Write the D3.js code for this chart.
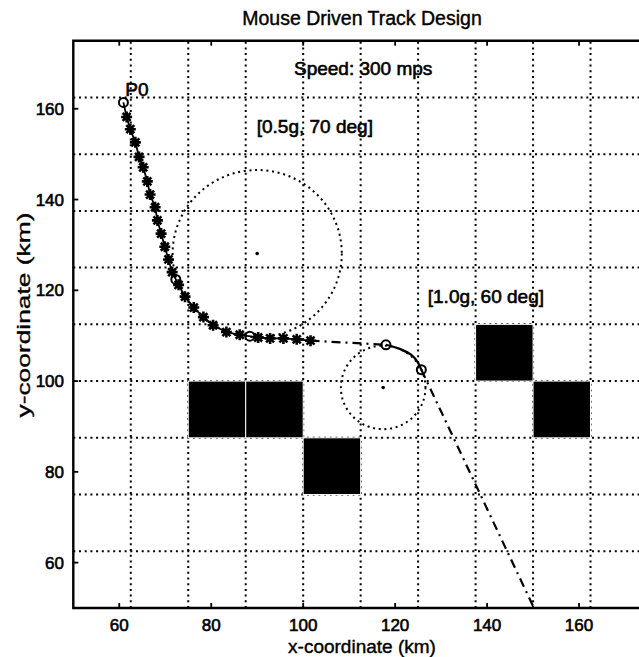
<!DOCTYPE html>
<html>
<head>
<meta charset="utf-8">
<script src="https://cdn.jsdelivr.net/npm/d3@7"></script>
<style>
  body { margin: 0; background: #fff; }
  svg text { font-family: "Liberation Sans", Arial, sans-serif; fill: #000; stroke: #000; stroke-width: 0.6px; }
</style>
</head>
<body>
<div id="chart"></div>
<script>
// ---- data ----
const xTicks = [60, 80, 100, 120, 140, 160];
const yTicks = [60, 80, 100, 120, 140, 160];
const gridVals = [62.5, 75, 87.5, 100, 112.5, 125, 137.5, 150, 162.5];

// threat cells (x0, x1, y0, y1 in km)
const blocks = [
    {x0: 75, x1: 87.5, y0: 87.5, y1: 100},
    {x0: 87.5, x1: 100, y0: 87.5, y1: 100},
    {x0: 100, x1: 112.5, y0: 75, y1: 87.5},
    {x0: 137.5, x1: 150, y0: 100, y1: 112.5},
    {x0: 150, x1: 162.5, y0: 87.5, y1: 100}
];

// mouse driven track (asterisks)
const trackStars = [
    [61.6, 158.2], [62.4, 155.5], [63.5, 152.6], [64.3, 149.4], [65.2, 147.1],
    [66.1, 144.0], [66.7, 141.1], [67.8, 138.3], [68.3, 135.4], [69.1, 132.5],
    [69.9, 129.6], [70.7, 126.8], [71.5, 124.0], [72.9, 121.2], [74.3, 118.6],
    [76.2, 116.2], [78.3, 114.1], [80.4, 112.3], [83.3, 110.8], [86.2, 110.2],
    [90.2, 109.6], [92.8, 109.4], [95.7, 109.4], [98.6, 109.2], [101.6, 108.9]
];
const startPoint = [60.9, 161.4];
const openMarks = [[60.9, 161.4], [72.3, 122.4], [88.4, 109.9], [118.0, 108.0], [125.7, 102.5]];

const leg1 = [[101.6, 108.9], [118.0, 108.0]];
const turnArc = [[118.0, 108.0], [121.0, 107.1], [123.6, 105.7], [125.0, 104.0], [125.7, 102.5]];
const leg2 = [[125.7, 102.5], [150.2, 50]];

// turn circles (centre, radius in km)
const turnCircles = [
    {cx: 90.0, cy: 128.1, r: 18.4},
    {cx: 117.4, cy: 98.6, r: 9.2}
];

const notes = [
    {x: 61.3, y: 162.9, t: "P0"},
    {x: 98.0, y: 167.5, t: "Speed: 300 mps"},
    {x: 89.9, y: 154.6, t: "[0.5g, 70 deg]"},
    {x: 127.1, y: 117.1, t: "[1.0g, 60 deg]"}
];

// ---- drawing ----
const W = 639, H = 657;
const margin = {left: 73.3, top: 40.7, right: -9, bottom: 49};
const width = W - margin.left - margin.right;
const height = H - margin.top - margin.bottom;

const svg = d3.select("#chart").append("svg")
    .attr("width", W)
    .attr("height", H);

const x = d3.scaleLinear().domain([50, 175]).range([margin.left, margin.left + width]);
const y = d3.scaleLinear().domain([50, 175]).range([margin.top + height, margin.top]);

// title
svg.append("text")
    .attr("x", 362)
    .attr("y", 25)
    .attr("text-anchor", "middle")
    .style("font-size", "19.5px")
    .style("stroke-width", "0.4px")
    .text("Mouse Driven Track Design");

// dotted grid
const dotted = "2 3.7";
svg.append("g").selectAll("line.gx")
    .data(gridVals)
    .enter()
    .append("line")
    .attr("x1", d => x(d)).attr("x2", d => x(d))
    .attr("y1", y(50)).attr("y2", y(175))
    .attr("stroke", "#000").attr("stroke-width", 2)
    .attr("stroke-dasharray", dotted);

svg.append("g").selectAll("line.gy")
    .data(gridVals)
    .enter()
    .append("line")
    .attr("y1", d => y(d)).attr("y2", d => y(d))
    .attr("x1", x(50)).attr("x2", x(175))
    .attr("stroke", "#000").attr("stroke-width", 2)
    .attr("stroke-dasharray", dotted);

// black cells
svg.append("g").selectAll("rect")
    .data(blocks)
    .enter()
    .append("rect")
    .attr("x", d => x(d.x0))
    .attr("y", d => y(d.y1))
    .attr("width", d => x(d.x1) - x(d.x0))
    .attr("height", d => y(d.y0) - y(d.y1))
    .attr("fill", "#000")
    .attr("stroke", "#fff")
    .attr("stroke-width", 1);

// turn circles (dotted) and their centres
svg.append("g").selectAll("ellipse")
    .data(turnCircles)
    .enter()
    .append("ellipse")
    .attr("cx", d => x(d.cx))
    .attr("cy", d => y(d.cy))
    .attr("rx", d => x(d.cx + d.r) - x(d.cx))
    .attr("ry", d => y(d.cy) - y(d.cy + d.r))
    .attr("fill", "none")
    .attr("stroke", "#000").attr("stroke-width", 2)
    .attr("stroke-dasharray", dotted);

svg.append("g").selectAll("circle.ctr")
    .data(turnCircles)
    .enter()
    .append("circle")
    .attr("cx", d => x(d.cx))
    .attr("cy", d => y(d.cy))
    .attr("r", 1.8)
    .attr("fill", "#000");

// track lines
const line = d3.line().x(d => x(d[0])).y(d => y(d[1]));

svg.append("path")
    .attr("d", line([startPoint].concat(trackStars)))
    .attr("fill", "none").attr("stroke", "#000").attr("stroke-width", 1.8);

svg.append("path")
    .attr("d", line(leg1))
    .attr("fill", "none").attr("stroke", "#000").attr("stroke-width", 2.2)
    .attr("stroke-dasharray", "9 5 2 5");

svg.append("path")
    .attr("d", line.curve(d3.curveCatmullRom)(turnArc))
    .attr("fill", "none").attr("stroke", "#000").attr("stroke-width", 2.2);
line.curve(d3.curveLinear);

svg.append("path")
    .attr("d", line(leg2))
    .attr("fill", "none").attr("stroke", "#000").attr("stroke-width", 2.2)
    .attr("stroke-dasharray", "9 5 2 5");

// asterisk markers
const s = 5.5, a = 4;
const starPath = `M${-s},0L${s},0M0,${-s}L0,${s}M${-a},${-a}L${a},${a}M${-a},${a}L${a},${-a}`;
svg.append("g").selectAll("path.star")
    .data(trackStars)
    .enter()
    .append("path")
    .attr("transform", d => `translate(${x(d[0])},${y(d[1])})`)
    .attr("d", starPath)
    .attr("stroke", "#000").attr("stroke-width", 2.6);

// open circle markers
svg.append("g").selectAll("circle.mk")
    .data(openMarks)
    .enter()
    .append("circle")
    .attr("cx", d => x(d[0]))
    .attr("cy", d => y(d[1]))
    .attr("r", 4.5)
    .attr("fill", "none")
    .attr("stroke", "#000").attr("stroke-width", 2);

// annotations
svg.append("g").selectAll("text.note")
    .data(notes)
    .enter()
    .append("text")
    .attr("x", d => x(d.x))
    .attr("y", d => y(d.y))
    .style("font-size", "19px")
    .text(d => d.t);

// axes box
svg.append("path")
    .attr("d", `M${x(175)},${y(175)}L${x(50)},${y(175)}L${x(50)},${y(50)}L${x(175)},${y(50)}`)
    .attr("fill", "none").attr("stroke", "#000").attr("stroke-width", 2.4);

// ticks (inside, all four sides)
const tk = 5;
const tg = svg.append("g").attr("stroke", "#000").attr("stroke-width", 1.8);
xTicks.forEach(v => {
    tg.append("line").attr("x1", x(v)).attr("x2", x(v)).attr("y1", y(50)).attr("y2", y(50) - tk);
    tg.append("line").attr("x1", x(v)).attr("x2", x(v)).attr("y1", y(175)).attr("y2", y(175) + tk);
});
yTicks.forEach(v => {
    tg.append("line").attr("y1", y(v)).attr("y2", y(v)).attr("x1", x(50)).attr("x2", x(50) + tk);
});

// tick labels
svg.append("g").selectAll("text.xl")
    .data(xTicks)
    .enter()
    .append("text")
    .attr("x", d => x(d))
    .attr("y", 631)
    .attr("text-anchor", "middle")
    .style("font-size", "17px")
    .text(d => d);

svg.append("g").selectAll("text.yl")
    .data(yTicks)
    .enter()
    .append("text")
    .attr("x", 64)
    .attr("y", d => y(d) + 6)
    .attr("text-anchor", "end")
    .style("font-size", "17px")
    .text(d => d);

// axis titles
svg.append("text")
    .attr("x", 362)
    .attr("y", 653)
    .attr("text-anchor", "middle")
    .style("font-size", "19px")
    .style("stroke-width", "0.4px")
    .text("x-coordinate (km)");

svg.append("text")
    .attr("transform", "translate(30,315) rotate(-90)")
    .attr("text-anchor", "middle")
    .attr("textLength", 205)
    .attr("lengthAdjust", "spacingAndGlyphs")
    .style("font-size", "18px")
    .style("stroke-width", "0.3px")
    .text("y-coordinate (km)");
</script>
</body>
</html>
